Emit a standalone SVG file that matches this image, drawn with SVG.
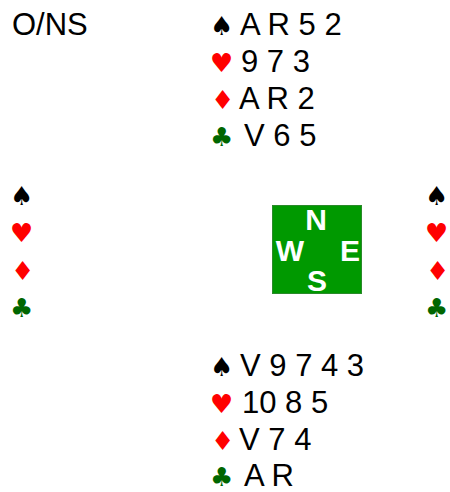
<svg xmlns="http://www.w3.org/2000/svg" width="450" height="492" viewBox="0 0 450 492">
<style>
  text { font-family: "Liberation Sans", Arial, sans-serif; }
  .t { font-size: 31px; fill: #000; }
  .s { font-family: "DejaVu Sans", sans-serif; font-size: 26px; }
  .sp { fill: #000; }
  .he, .di { fill: #ff0000; }
  .cl { fill: #006600; }
  .c { font-size: 30px; font-weight: bold; fill: #fff; text-anchor: middle; }
</style>
<rect width="450" height="492" fill="#fff"/>
<g id="dealer"><text class="t" x="12" y="35">O/NS</text></g>
<g id="north">
  <text class="s sp" x="210" y="35">♠</text><text class="t" x="240" y="35">A R 5 2</text>
  <text class="s he" x="210" y="72">♥</text><text class="t" x="241" y="72">9 7 3</text>
  <text class="s di" x="211" y="109">♦</text><text class="t" x="239" y="109">A R 2</text>
  <text class="s cl" x="210" y="146">♣</text><text class="t" x="244" y="146">V 6 5</text>
</g>
<g id="west">
  <text class="s sp" x="10" y="205">♠</text>
  <text class="s he" x="10" y="242">♥</text>
  <text class="s di" x="11" y="280">♦</text>
  <text class="s cl" x="10" y="317">♣</text>
</g>
<g id="east">
  <text class="s sp" x="425" y="205">♠</text>
  <text class="s he" x="425" y="242">♥</text>
  <text class="s di" x="426" y="280">♦</text>
  <text class="s cl" x="425" y="317">♣</text>
</g>
<g id="compass">
  <rect x="272.5" y="205.5" width="89" height="88" fill="#009900" stroke="#2a8a2a" stroke-width="1"/>
  <text class="c" x="316" y="230">N</text>
  <text class="c" x="290" y="261">W</text>
  <text class="c" x="350" y="261">E</text>
  <text class="c" x="317" y="291">S</text>
</g>
<g id="south">
  <text class="s sp" x="210" y="376">♠</text><text class="t" x="240" y="376">V 9 7 4 3</text>
  <text class="s he" x="210" y="413">♥</text><text class="t" x="242" y="413">10 8 5</text>
  <text class="s di" x="211" y="450">♦</text><text class="t" x="239" y="450">V 7 4</text>
  <text class="s cl" x="210" y="486">♣</text><text class="t" x="244" y="486">A R</text>
</g>
<g id="connectors"></g>
</svg>
